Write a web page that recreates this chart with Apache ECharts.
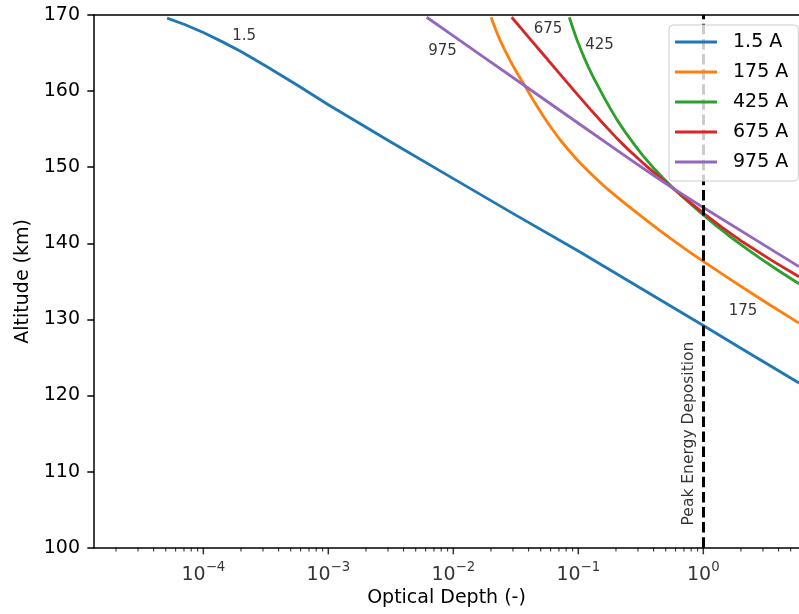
<!DOCTYPE html>
<html><head><meta charset="utf-8">
<script src="https://cdn.jsdelivr.net/npm/echarts@6/dist/echarts.min.js"></script>
<style>html,body{margin:0;padding:0;background:#fff}#c{width:799px;height:614px}</style>
</head><body><div id="c"></div>
<script>
// ---------------- data ----------------
const seriesNames = ['1.5 A', '175 A', '425 A', '675 A', '975 A'];
const seriesColors = ['#1f77b4', '#ff7f0e', '#2ca02c', '#d62728', '#9467bd'];

const depth15 = [5.13e-5, 7.08e-5, 1e-4, 1.41e-4, 2.0e-4, 3.16e-4, 5.62e-4, 1e-3, 3.16e-3, 0.01, 0.0316, 0.1, 0.316, 1, 2.0, 5.83];
const alt15   = [169.6, 168.75, 167.7, 166.5, 165.2, 163.3, 160.8, 158.2, 153.3, 148.5, 143.7, 139.0, 134.1, 129.2, 126.2, 121.65];

const depth175 = [0.02004, 0.02188, 0.02366, 0.0257, 0.02844, 0.03236, 0.0375, 0.04467, 0.0525, 0.0617, 0.0715, 0.0832, 0.097, 0.1122, 0.1318, 0.1687, 0.2239, 0.3311, 0.4467, 0.612, 0.7943, 1, 1.738, 3.02, 5.83];
const alt175   = [169.7, 168.03, 166.7, 165.44, 164.03, 162.38, 160.65, 158.52, 156.7, 155.02, 153.61, 152.29, 151.05, 149.97, 148.84, 147.21, 145.54, 143.33, 141.7, 140.06, 138.75, 137.62, 135.0, 132.46, 129.51];

const depth425 = [0.0847, 0.0912, 0.0977, 0.1047, 0.1122, 0.1202, 0.1318, 0.1445, 0.1622, 0.182, 0.2042, 0.2399, 0.2818, 0.3311, 0.3981, 0.4677, 0.542, 0.6607, 0.8128, 1, 1.259, 1.585, 2.089, 2.818, 3.981, 5.83];
const alt425   = [169.7, 168.1, 166.72, 165.46, 164.29, 163.18, 161.82, 160.58, 159.05, 157.6, 156.22, 154.5, 152.93, 151.46, 149.94, 148.72, 147.66, 146.32, 145.0, 143.72, 142.36, 141.06, 139.59, 138.08, 136.43, 134.69];

const depth675 = [0.0293, 0.0398, 0.0525, 0.0708, 0.097, 0.1259, 0.1585, 0.1995, 0.2512, 0.3311, 0.4266, 0.542, 0.7413, 1, 1.413, 2.089, 3.548, 5.83];
const alt675   = [169.7, 167.13, 164.81, 162.3, 159.67, 157.53, 155.7, 153.95, 152.31, 150.51, 148.96, 147.53, 145.7, 143.97, 142.1, 140.13, 137.72, 135.6];

const depth975 = [0.00612, 0.01, 0.01585, 0.0398, 0.1, 0.2512, 0.3548, 0.5012, 0.7079, 1, 2.512, 5.83];
const alt975   = [169.7, 167.25, 164.96, 160.37, 155.78, 151.2, 149.5, 147.86, 146.27, 144.7, 140.65, 136.94];

// inline curve labels (data coordinates)
const curveLabelTexts = ['1.5', '975', '675', '425', '175'];
const curveLabelDepth = [2.12e-4, 8.2e-3, 0.0573, 0.148, 2.08];
const curveLabelAlt   = [167.2, 165.3, 168.2, 166.1, 131.1];

const peakDepth = 1;
const peakText = 'Peak Energy Deposition';
const peakTextDepth = 0.768;
const peakTextAlt = 115.0;

// axes
const xMin = 1.334e-5, xMax = 5.83;
const majorTickValues = [1e-4, 1e-3, 1e-2, 1e-1, 1];
const majorTickExponents = ['\u22124', '\u22123', '\u22122', '\u22121', '0'];
const minorTickValues = [
  2e-5, 3e-5, 4e-5, 5e-5, 6e-5, 7e-5, 8e-5, 9e-5,
  2e-4, 3e-4, 4e-4, 5e-4, 6e-4, 7e-4, 8e-4, 9e-4,
  2e-3, 3e-3, 4e-3, 5e-3, 6e-3, 7e-3, 8e-3, 9e-3,
  2e-2, 3e-2, 4e-2, 5e-2, 6e-2, 7e-2, 8e-2, 9e-2,
  0.2, 0.3, 0.4, 0.5, 0.6, 0.7, 0.8, 0.9,
  2, 3, 4, 5
];
const yMin = 100, yMax = 170, yStep = 10;

// ---------------- chart ----------------
const FONT = 'DejaVu Sans';
const depths = [depth15, depth175, depth425, depth675, depth975];
const alts = [alt15, alt175, alt425, alt675, alt975];

const chart = echarts.init(document.getElementById('c'), null, {renderer: 'canvas'});

const lineSeries = seriesNames.map((name, i) => ({
  name: name,
  type: 'line',
  data: depths[i].map((d, j) => [d, alts[i][j]]),
  showSymbol: false,
  symbol: 'none',
  smooth: false,
  color: seriesColors[i],
  lineStyle: {color: seriesColors[i], width: 2.85, join: 'round'},
  z: 2,
  silent: true
}));

const axisLineStyle = {color: '#000', width: 1.5};

const option = {
  animation: false,
  backgroundColor: '#fff',
  textStyle: {fontFamily: FONT},
  grid: {left: 94, top: 15, width: 705, height: 532.7, show: false, containLabel: false},
  legend: {
    data: seriesNames,
    orient: 'vertical',
    left: 669, top: 25,
    icon: 'rect',
    itemWidth: 42, itemHeight: 3,
    itemGap: 10,
    padding: [7, 10, 9, 6],
    backgroundColor: 'rgba(255,255,255,0.8)',
    borderColor: '#cccccc', borderWidth: 1, borderRadius: 4,
    textStyle: {fontSize: 19, fontFamily: FONT, color: '#000', lineHeight: 20, padding: [0, 0, 0, 11]},
    z: 10
  },
  xAxis: [{
    type: 'log', logBase: 10, min: xMin, max: xMax, position: 'bottom',
    axisLine: {show: true, onZero: false, lineStyle: axisLineStyle},
    axisTick: {show: false}, axisLabel: {show: false}, splitLine: {show: false},
    minorTick: {show: false}, minorSplitLine: {show: false},
    name: 'Optical Depth (-)', nameLocation: 'middle', nameGap: 41,
    nameTextStyle: {fontSize: 19, fontFamily: FONT, color: '#000'}
  }, {
    type: 'log', logBase: 10, min: xMin, max: xMax, position: 'top',
    axisLine: {show: true, onZero: false, lineStyle: axisLineStyle},
    axisTick: {show: false}, axisLabel: {show: false}, splitLine: {show: false}
  }],
  yAxis: {
    type: 'value', min: yMin, max: yMax, interval: yStep,
    axisLine: {show: true, onZero: false, lineStyle: axisLineStyle},
    axisTick: {show: true, inside: false, length: 6.65, lineStyle: {color: '#000', width: 1.5}},
    axisLabel: {fontSize: 19, fontFamily: FONT, color: '#000', margin: 14},
    splitLine: {show: false},
    name: 'Altitude (km)', nameLocation: 'middle', nameGap: 60,
    nameTextStyle: {fontSize: 19, fontFamily: FONT, color: '#000'}
  },
  series: lineSeries.concat([
    {
      name: 'peak', type: 'line', data: [], z: 3, silent: true,
      markLine: {
        silent: true, symbol: ['none', 'none'], animation: false,
        label: {show: false},
        lineStyle: {color: '#000', type: [10.5, 4.6], width: 3},
        data: [{xAxis: peakDepth}]
      }
    },
    {
      name: 'majorTicks', type: 'scatter', silent: true, clip: false, z: 5,
      symbol: 'rect', symbolSize: [1.5, 6.65], symbolOffset: [0, 3.3],
      itemStyle: {color: '#000'},
      data: majorTickValues.map(v => [v, yMin])
    },
    {
      name: 'minorTicks', type: 'scatter', silent: true, clip: true, z: 5,
      symbol: 'rect', symbolSize: [1.1, 3.8], symbolOffset: [0, 1.9],
      itemStyle: {color: '#000'},
      data: minorTickValues.map(v => [v, yMin])
    },
    {
      name: 'majorTickLabels', type: 'scatter', silent: true, clip: false, z: 5,
      symbolSize: 1, itemStyle: {color: 'rgba(0,0,0,0)'},
      data: majorTickValues.map(v => [v, yMin]),
      label: {
        show: true, position: 'inside', offset: [0, 25],
        formatter: p => '{b|10}{s|' + majorTickExponents[p.dataIndex] + '}',
        rich: {
          b: {fontSize: 19, fontFamily: FONT, color: '#000', verticalAlign: 'bottom', lineHeight: 24},
          s: {fontSize: 13.3, fontFamily: FONT, color: '#000', verticalAlign: 'top', lineHeight: 13}
        }
      }
    },
    {
      name: 'curveLabels', type: 'scatter', silent: true, clip: false, z: 4,
      symbolSize: 1, itemStyle: {color: 'rgba(0,0,0,0)'},
      data: curveLabelDepth.map((d, i) => [d, curveLabelAlt[i]]),
      label: {
        show: true, position: 'inside',
        formatter: p => curveLabelTexts[p.dataIndex],
        fontSize: 15, fontFamily: FONT, color: '#000'
      }
    },
    {
      name: 'peakLabel', type: 'scatter', silent: true, clip: false, z: 4,
      symbolSize: 1, itemStyle: {color: 'rgba(0,0,0,0)'},
      data: [[peakTextDepth, peakTextAlt]],
      label: {
        show: true, position: 'inside', rotate: 90,
        formatter: () => peakText,
        fontSize: 15.5, fontFamily: FONT, color: '#000'
      }
    }
  ])
};
chart.setOption(option);
</script>
</body></html>
